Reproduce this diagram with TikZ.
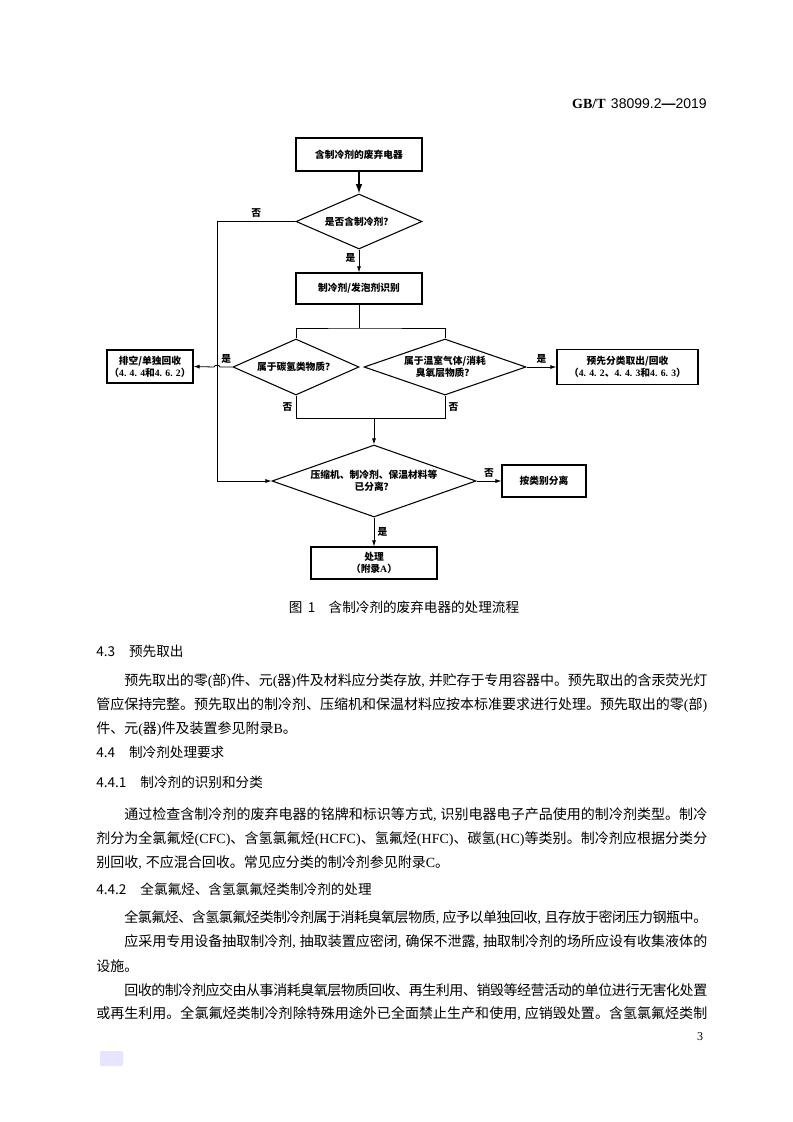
\documentclass[tikz,border=0pt]{standalone}
\usepackage{fontspec}
\setmainfont{Noto Sans CJK SC}
\newfontfamily\cjk{Noto Sans CJK SC}
\newfontfamily\lat{Liberation Serif}
\newfontfamily\hsans{Liberation Sans}
\usetikzlibrary{shapes.geometric,arrows.meta,calc}

% glue between CJK characters, so that a line can be stretched to the full width
\newXeTeXintercharclass\cjkcls
\newcount\cjkc
\def\setcls#1#2{\cjkc=#1\relax
  \loop\XeTeXcharclass\cjkc=\cjkcls\advance\cjkc by 1\relax\ifnum\cjkc<#2\relax\repeat}
\setcls{"4E00}{"A000}
\setcls{"3001}{"3003}
\setcls{"FF08}{"FF0A}
\setcls{"FF0C}{"FF0D}
\setcls{"FF1F}{"FF20}
\XeTeXinterchartoks\cjkcls\cjkcls={\hskip 0pt plus 2pt minus 1pt\relax}

\newcommand{\gl}{\hskip 0pt plus 2pt minus 1pt\relax}
\newcommand{\flowf}{\cjk\bfseries\fontsize{7.3pt}{9pt}\selectfont}
\newcommand{\bodyf}{\cjk\fontsize{10.5pt}{12pt}\selectfont}
\newcommand{\headf}{\cjk\fontsize{10.2pt}{12pt}\selectfont}
\newcommand{\nm}[1]{{\lat #1}}
\newcommand{\lt}[1]{\gl{\lat #1}\gl}
\newcommand{\lp}{\gl{\lat(}}
\newcommand{\rp}{{\lat)}\gl}
\newcommand{\cm}{{\lat,}\hskip 3pt plus 2pt minus 1.5pt\relax}
\newcommand{\jline}[1]{\makebox[458.25pt][s]{\XeTeXinterchartokenstate=1 #1}}
\newcommand{\ind}{\hspace*{21pt}}

\begin{document}
\begin{tikzpicture}[x=0.75pt,y=-0.75pt,
  box/.style={draw,line width=.9pt,inner sep=0pt,align=center,font=\flowf},
  dia/.style={draw,diamond,aspect=2.5,inner sep=0pt,line width=.8pt,align=center,font=\flowf},
  ln/.style={line width=.6pt},
  arr/.style={line width=.6pt,-{Latex[length=4.5pt,width=3pt]}},
  lbl/.style={font=\flowf,inner sep=2.5pt},
  txt/.style={anchor=west,inner sep=0pt,font=\bodyf},
  hd/.style={anchor=west,inner sep=0pt,font=\headf}]

\fill[white] (0,0) rectangle (793,1122);
\useasboundingbox (0,0) rectangle (793,1122);

\node[anchor=east,inner sep=0pt,font=\fontsize{10.5pt}{12pt}\selectfont] (hdr) at (707,104)
  {{\lat\bfseries GB/T}\hspace{4pt}{\hsans 38099.2\textbf{—}2019}};

\begin{scope}
\node[box,minimum width=94.5pt,minimum height=24.75pt] (b1) at (359,154.5) {含制冷剂的废弃电器};
\node[dia,minimum width=94.5pt,minimum height=41.25pt] (d1) at (359,221.5) {是否含制冷剂？};
\node[box,minimum width=94.5pt,minimum height=23.25pt] (b2) at (359,288.5) {制冷剂/发泡剂识别};
\node[dia,minimum width=94.5pt,minimum height=42pt] (d2) at (296,367) {属于碳氢类物质？};
\node[dia,minimum width=121.5pt,minimum height=42pt] (d3) at (445,367) {属于温室气体/消耗\\臭氧层物质？};
\node[box,minimum width=64.5pt,minimum height=24.75pt] (lb) at (150,366.5) {排空/单独回收\\（\nm{4. 4. 4}和\nm{4. 6. 2}）};
\node[box,minimum width=105.75pt,minimum height=26.25pt] (rb) at (627.5,367) {预先分类取出/回收\\（\nm{4. 4. 2}、\nm{4. 4. 3}和\nm{4. 6. 3}）};
\node[dia,minimum width=153pt,minimum height=52.5pt] (d4) at (374,481) {压缩机、制冷剂、保温材料等\\已分离？};
\node[box,minimum width=63pt,minimum height=24pt] (sep) at (544,481) {按类别分离};
\node[box,minimum width=94.5pt,minimum height=24pt] (end) at (374,563) {处理\\（附录\nm{A}）};

\coordinate (lft) at (217,481);
\coordinate (sp) at (359,328);
\coordinate (mg) at (374,418);

\draw[line width=1pt,-{Latex[length=7pt,width=5pt]}] (b1) -- (d1);
\draw[arr] (d1) -- node[lbl,left,pos=.35]{是} (b2);
\draw[ln] (b2) -- (sp);
\draw[ln] (d2.north) |- (sp) -| (d3.north);
\draw[arr] (d1.west) -- node[lbl,above]{否} (lft |- d1.west) -- (lft) -- (d4.west);
\draw[arr] (d2.west) -- node[lbl,above]{是} ($(lft |- d2.west)+(3,0)$)
  to[out=90,in=90] ($(lft |- d2.west)+(-3,0)$) -- (lb.east);
\draw[arr] (d3.east) -- node[lbl,above]{是} (rb.west);
\draw[ln] (d2.south) -- node[lbl,left]{否} ++(0,23) -| node[lbl,right,pos=.75]{否} (d3.south);
\draw[arr] (mg) -- (d4);
\draw[arr] (d4.east) -- node[lbl,above]{否} (sep.west);
\draw[arr] (d4.south) -- node[lbl,right]{是} (end.north);
\end{scope}

\node[font=\headf] (cap) at (404,607) {图\hspace{4pt}1\hspace{10pt}含制冷剂的废弃电器的处理流程};

\begin{scope}
\node[hd] (s43) at (96,651) {4.3\hspace{10.5pt}预先取出};
\node[txt] (p1a) at (96,681) {\jline{\ind 预先取出的零\lp 部\rp 件、元\lp 器\rp 件及材料应分类存放\cm 并贮存于专用容器中。预先取出的含汞荧光灯}};
\node[txt] (p1b) at (96,705) {\jline{管应保持完整。预先取出的制冷剂、压缩机和保温材料应按本标准要求进行处理。预先取出的零\lp 部{\lat)}}};
\node[txt] (p1c) at (96,729) {件、元\lp 器\rp 件及装置参见附录\nm{B}。};

\node[hd] (s44) at (96,752) {4.4\hspace{10.5pt}制冷剂处理要求};
\node[hd] (s441) at (96,782) {4.4.1\hspace{10.5pt}制冷剂的识别和分类};
\node[txt] (p2a) at (96,815) {\jline{\ind 通过检查含制冷剂的废弃电器的铭牌和标识等方式\cm 识别电器电子产品使用的制冷剂类型。制冷}};
\node[txt] (p2b) at (96,839) {\jline{剂分为全氯氟烃\lt{(CFC)}、含氢氯氟烃\lt{(HCFC)}、氢氟烃\lt{(HFC)}、碳氢\lt{(HC)}等类别。制冷剂应根据分类分}};
\node[txt] (p2c) at (96,863) {别回收\cm 不应混合回收。常见应分类的制冷剂参见附录\nm{C}。};

\node[hd] (s442) at (96,889) {4.4.2\hspace{10.5pt}全氯氟烃、含氢氯氟烃类制冷剂的处理};
\node[txt] (p3a) at (96,918) {\jline{\ind 全氯氟烃、含氢氯氟烃类制冷剂属于消耗臭氧层物质\cm 应予以单独回收\cm 且存放于密闭压力钢瓶中。}};
\node[txt] (p3b) at (96,942) {\jline{\ind 应采用专用设备抽取制冷剂\cm 抽取装置应密闭\cm 确保不泄露\cm 抽取制冷剂的场所应设有收集液体的}};
\node[txt] (p3c) at (96,966) {设施。};
\node[txt] (p3d) at (96,990) {\jline{\ind 回收的制冷剂应交由从事消耗臭氧层物质回收、再生利用、销毁等经营活动的单位进行无害化处置}};
\node[txt] (p3e) at (96,1014) {\jline{或再生利用。全氯氟烃类制冷剂除特殊用途外已全面禁止生产和使用\cm 应销毁处置。含氢氯氟烃类制}};
\end{scope}

\node[font=\lat\fontsize{9pt}{10pt}\selectfont] (pg) at (700,1037) {3};
\fill[blue!10,rounded corners=1pt] (100,1051) rectangle (123,1066);

\end{tikzpicture}
\end{document}
